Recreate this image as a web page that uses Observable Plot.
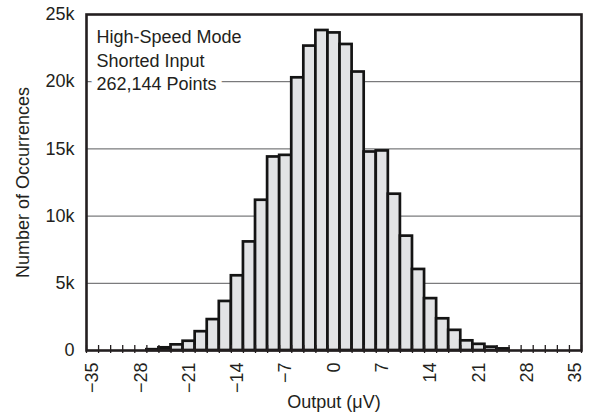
<!DOCTYPE html>
<html>
<head>
<meta charset="utf-8">
<script src="https://cdn.jsdelivr.net/npm/d3@7"></script>
<script src="https://cdn.jsdelivr.net/npm/@observablehq/plot@0.6"></script>
<style>
  html, body { margin: 0; padding: 0; background: #fff; }
  #chart { width: 589px; height: 418px; }
  svg { display: block; }
</style>
</head>
<body>
<div id="chart"></div>
<script>
// Bin centers (µV) and counts
const binCenters = [-26.25, -24.5, -22.75, -21, -19.25, -17.5, -15.75, -14, -12.25, -10.5,
  -8.75, -7, -5.25, -3.5, -1.75, 0, 1.75, 3.5, 5.25, 7,
  8.75, 10.5, 12.25, 14, 15.75, 17.5, 19.25, 21, 22.75, 24.5];
const counts = [60, 200, 420, 690, 1400, 2300, 3650, 5560, 8080, 11180,
  14400, 14520, 20290, 22650, 23810, 23630, 22770, 20720, 14770, 14850,
  11630, 8510, 6030, 3860, 2360, 1500, 720, 460, 250, 120];
const binWidth = 1.75;
const xTickLabels = [-35, -28, -21, -14, -7, 0, 7, 14, 21, 28, 35];
const yTicks = [0, 5000, 10000, 15000, 20000, 25000];
const annotationLines = ["High-Speed Mode", "Shorted Input", "262,144 Points"];
const xTitle = "Output (μV)";
const yTitle = "Number of Occurrences";

const bins = binCenters.map((c, i) => ({center: c, count: counts[i]}));
const xMin = xTickLabels[0] - binWidth / 2;
const xMax = xTickLabels[xTickLabels.length - 1] + binWidth / 2;
const edgeTicks = d3.range(0, Math.round((xMax - xMin) / binWidth) + 1).map(i => xMin + i * binWidth);

const ink = "#231f20";
const font = "'Liberation Sans', Arial, Helvetica, sans-serif";
const fs = 18;

const chart = Plot.plot({
  width: 589,
  height: 418,
  marginLeft: 86,
  marginRight: 8,
  marginTop: 14,
  marginBottom: 68,
  style: {fontFamily: font, fontSize: fs + "px", color: ink, background: "#fff"},
  x: {domain: [xMin, xMax]},
  y: {domain: [0, 25000]},
  marks: [
    Plot.gridY(yTicks.slice(1, -1), {stroke: "#5a5b5d", strokeOpacity: 1, strokeWidth: 1}),
    Plot.text([annotationLines.join("\n")], {
      frameAnchor: "top-left", dx: 10, dy: 12, lineAnchor: "top", lineHeight: 1.3,
      textAnchor: "start", fontSize: fs, fill: ink, stroke: "white", strokeWidth: 12
    }),
    Plot.rectY(bins, {
      x1: d => d.center - binWidth / 2,
      x2: d => d.center + binWidth / 2,
      y: "count",
      fill: "#e2e3e5",
      stroke: "#141414",
      strokeWidth: 2.7
    }),
    Plot.tickX(edgeTicks, {x: d => d, insetTop: 331, insetBottom: -3, stroke: ink, strokeWidth: 1.3}),
    Plot.frame({stroke: ink, strokeWidth: 2.6}),
    Plot.axisX({ticks: xTickLabels, tickRotate: -90, tickSize: 0, tickPadding: 12, fontSize: fs, label: null, fill: ink}),
    Plot.axisY({ticks: yTicks, tickSize: 0, tickPadding: 12, fontSize: fs, label: null, fill: ink,
      tickFormat: d => d === 0 ? "0" : (d / 1000) + "k"}),
    Plot.text([xTitle], {frameAnchor: "bottom", dy: 52, lineAnchor: "middle", textAnchor: "middle", fontSize: fs, fill: ink}),
    Plot.text([yTitle], {frameAnchor: "left", dx: -63, rotate: -90, lineAnchor: "middle", textAnchor: "middle", fontSize: fs, fill: ink})
  ]
});
document.getElementById("chart").appendChild(chart);
</script>
</body>
</html>
